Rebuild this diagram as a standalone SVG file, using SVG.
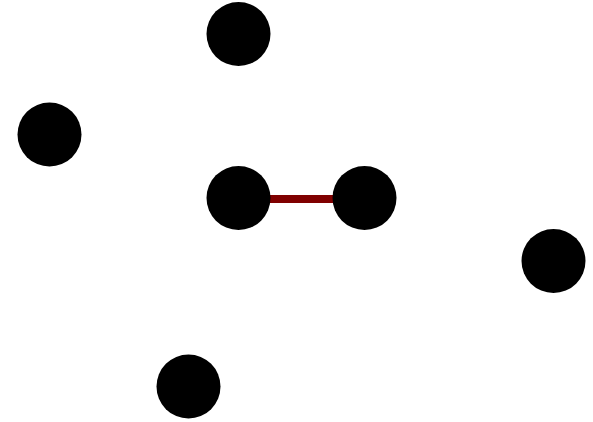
<svg xmlns="http://www.w3.org/2000/svg" width="593" height="422" viewBox="0 0 593 422">
<style>.n{fill:#000}.e{stroke:#800000;stroke-width:8}</style>
<rect width="593" height="422" fill="#fff"/>
<g id="connectors"><line class="e" x1="238" y1="199" x2="364.5" y2="199"/></g>
<g id="n1"><circle class="n" cx="238.5" cy="34" r="32"/></g>
<g id="n2"><circle class="n" cx="49.5" cy="134.5" r="32"/></g>
<g id="n3"><circle class="n" cx="238.5" cy="198" r="32"/></g>
<g id="n4"><circle class="n" cx="364.5" cy="198" r="32"/></g>
<g id="n5"><circle class="n" cx="553.5" cy="261" r="32"/></g>
<g id="n6"><circle class="n" cx="188.5" cy="386.5" r="32"/></g>
</svg>
